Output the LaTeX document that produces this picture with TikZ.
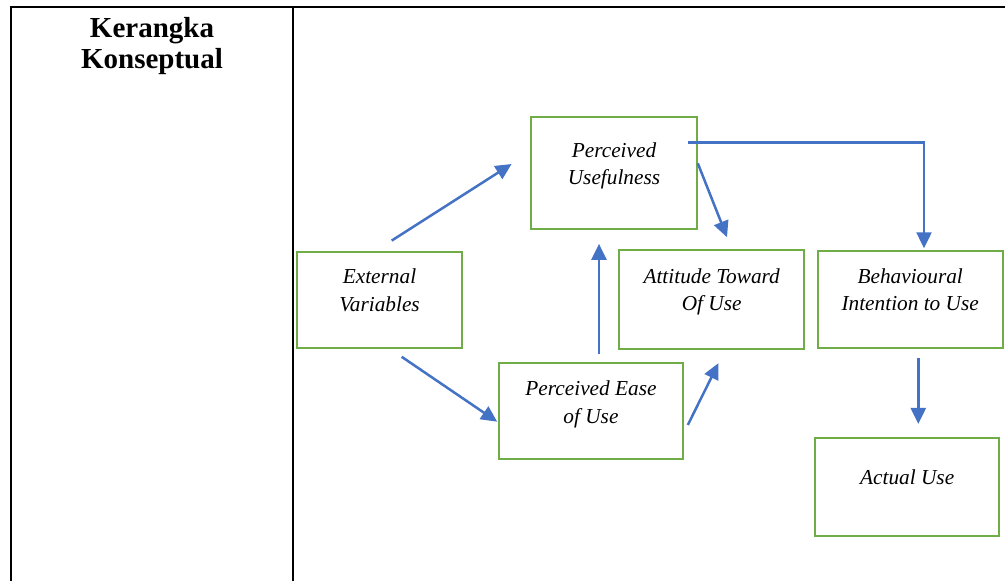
\documentclass[tikz,border=0pt]{standalone}
\usepackage{fontspec}
\setmainfont{Liberation Serif}
\usepackage{tikz}
\usetikzlibrary{arrows.meta, positioning, calc}

\definecolor{boxgreen}{HTML}{70AD47}
\definecolor{arrblue}{HTML}{4472C4}

\begin{document}
\begin{tikzpicture}[x=1pt, y=-1pt,
    rule/.style={draw=black, line width=1.6pt},
    box/.style={draw=boxgreen, line width=2.2pt, inner sep=0pt},
    txt/.style={anchor=north, inner sep=0pt, align=center, font=\fontsize{21.3}{27.5}\selectfont\itshape},
    ttl/.style={anchor=north, inner sep=0pt, align=center, font=\fontsize{29}{31.5}\selectfont\bfseries},
    arr/.style={draw=arrblue, line width=2.5pt, -{Triangle[length=16pt, width=15pt]}}
]
\useasboundingbox (0,0) rectangle (1005,581);

% Table frame - outer lines and the column divider
\draw[rule] (11,581) -- (11,7) -- (1005,7);
\draw[rule] (293,7) -- (293,581);

% Title in the left column
\node[ttl] (title) at (152,17) {Kerangka\\Konseptual};

% Boxes of the model
\node[box, minimum width=166.6pt, minimum height=111.7pt] (pu) at (614,173.2) {};
\node[box, minimum width=165.6pt, minimum height=96pt] (ext) at (379.5,299.7) {};
\node[box, minimum width=184.7pt, minimum height=98.4pt] (att) at (711.7,299.5) {};
\node[box, minimum width=185pt, minimum height=97.3pt] (bi) at (910.2,299.7) {};
\node[box, minimum width=184.6pt, minimum height=96.6pt] (peou) at (591,411) {};
\node[box, minimum width=184.3pt, minimum height=97.4pt] (au) at (907.2,487) {};

% Box texts - set near the top of each box
\node[txt] (putxt) at ([shift={(0,26)}]pu.north) {Perceived\\Usefulness};
\node[txt] (exttxt) at ([shift={(0,18)}]ext.north) {External\\Variables};
\node[txt] (atttxt) at ([shift={(0,19)}]att.north) {Attitude Toward\\Of Use};
\node[txt] (bitxt) at ([shift={(0,18.5)}]bi.north) {Behavioural\\Intention to Use};
\node[txt] (peoutxt) at ([shift={(0,19)}]peou.north) {Perceived Ease\\of Use};
\node[txt] (autxt) at ([shift={(0,32)}]au.north) {Actual Use};

% Arrows between the boxes
\draw[arr] ([shift={(12.2,-10)}]ext.north) -- ([shift={(-18,-9.2)}]pu.west);
\draw[arr] ([shift={(22.2,8)}]ext.south) -- ([shift={(-0.4,10.7)}]peou.west);
\draw[arr] ([shift={(8,-7.7)}]peou.north) -- ([shift={(-15,13.7)}]pu.south);
\draw[arr] ([shift={(-0.6,-9.9)}]pu.east) -- ([shift={(15.3,-12)}]att.north);
\draw[arr] ([shift={(3.4,14)}]peou.east) -- ([shift={(6.8,13.3)}]att.south);
\draw[arr] ([shift={(-10,-30.9)}]pu.east) -| ([shift={(13.8,-1.7)}]bi.north);
\draw[arr] ([shift={(8.1,8.4)}]bi.south) -- ([shift={(11.1,-13.3)}]au.north);

\end{tikzpicture}
\end{document}
